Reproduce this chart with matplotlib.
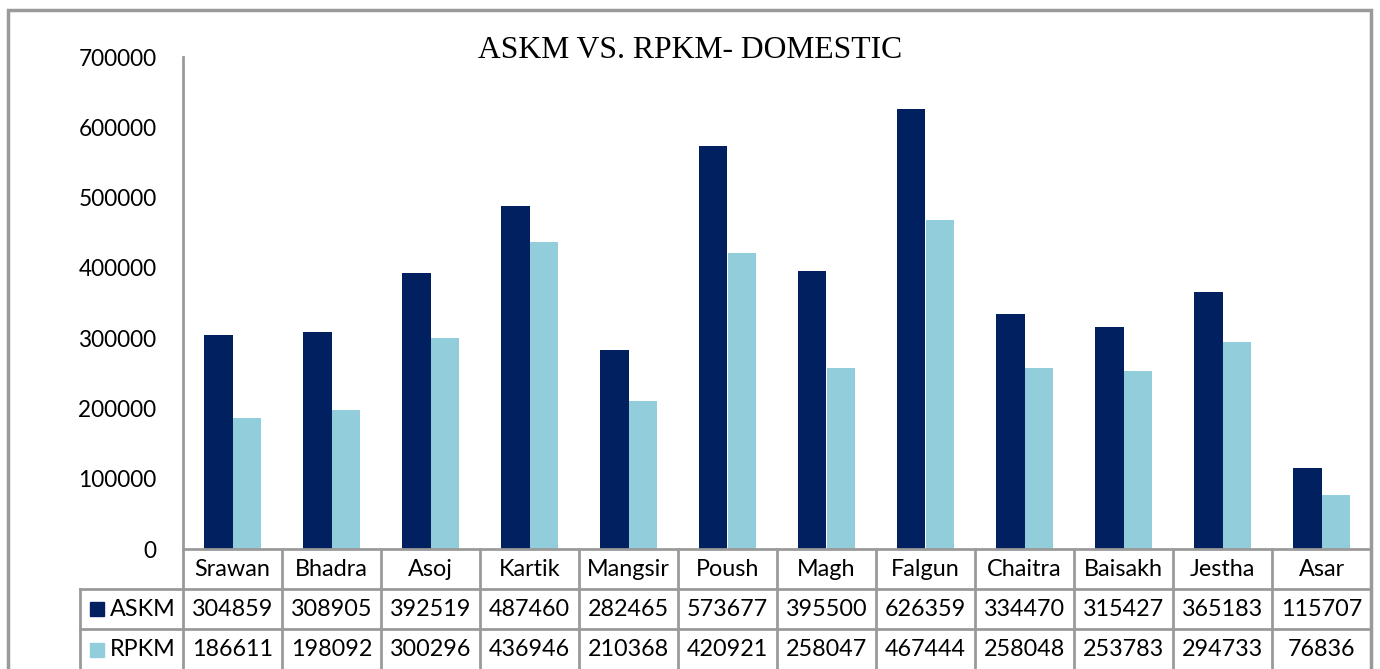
import numpy as np
import matplotlib
matplotlib.use("Agg")
import matplotlib.pyplot as plt
from matplotlib.patches import Rectangle
from matplotlib import transforms

months = ['Srawan', 'Bhadra', 'Asoj', 'Kartik', 'Mangsir', 'Poush',
          'Magh', 'Falgun', 'Chaitra', 'Baisakh', 'Jestha', 'Asar']
askm = [304859, 308905, 392519, 487460, 282465, 573677,
        395500, 626359, 334470, 315427, 365183, 115707]
rpkm = [186611, 198092, 300296, 436946, 210368, 420921,
        258047, 467444, 258048, 253783, 294733, 76836]
yticks = [0, 100000, 200000, 300000, 400000, 500000, 600000, 700000]

dark = '#002060'
light = '#92CDDC'
grid_col = '#9a9a9a'
W, H = 1380, 669
sans = ['Lato', 'DejaVu Sans']

fig = plt.figure(figsize=(W / 100, H / 100), dpi=100)
ax = fig.add_axes([183 / W, (H - 549) / H, (1371 - 183) / W, (549 - 57) / H])

x = np.arange(len(months))
w = 1 / 3.5
ax.bar(x - w / 2, askm, w, color=dark)
ax.bar(x + w / 2, rpkm, w, color=light)

ax.set_xlim(-0.5, len(months) - 0.5)
ax.set_ylim(0, 700000)
ax.set_yticks(yticks)
ax.set_yticklabels([str(v) for v in yticks], family=sans, fontsize=16.3)
ax.tick_params(axis='y', length=0, pad=19)
ax.set_xticks([])
for s in ['top', 'right']:
    ax.spines[s].set_visible(False)
for s in ['left', 'bottom']:
    ax.spines[s].set_color(grid_col)
    ax.spines[s].set_linewidth(2)

fig.text(690 / W, 1 - 50 / H, 'ASKM VS. RPKM- DOMESTIC', family=['Liberation Serif'],
         fontsize=22.8, ha='center', va='center')

# outer chart border
fig.patches.append(Rectangle((8 / W, -0.05), (1371 - 8) / W, 1.05 - 10 / H,
                             transform=fig.transFigure, fill=False,
                             edgecolor=grid_col, linewidth=2.5))


def fy(py):
    return 1 - py / H


# data table under the axis
tr = transforms.blended_transform_factory(ax.transData, fig.transFigure)
for b in np.arange(len(months) + 1) - 0.5:
    ax.plot([b, b], [fy(549), fy(672)], transform=tr, color=grid_col,
            lw=2, clip_on=False)
for py in [589, 629]:
    fig.add_artist(plt.Line2D([80 / W, 1371 / W], [fy(py), fy(py)],
                              color=grid_col, lw=2))
fig.add_artist(plt.Line2D([80 / W, 80 / W], [fy(589), fy(672)],
                          color=grid_col, lw=2))

fs = 16.8
for i, m in enumerate(months):
    ax.text(i, fy(570), m, transform=tr, ha='center', va='center',
            family=sans, fontsize=fs)
    ax.text(i, fy(609), str(askm[i]), transform=tr, ha='center', va='center',
            family=sans, fontsize=fs)
    ax.text(i, fy(650), str(rpkm[i]), transform=tr, ha='center', va='center',
            family=sans, fontsize=fs)

for py, name, col in [(609, 'ASKM', dark), (650, 'RPKM', light)]:
    fig.patches.append(Rectangle((90 / W, fy(py + 7)), 14 / W, 14 / H,
                                 transform=fig.transFigure, color=col))
    fig.text(110 / W, fy(py), name, family=sans, fontsize=fs, va='center')

fig.savefig('out.png', dpi=100)
